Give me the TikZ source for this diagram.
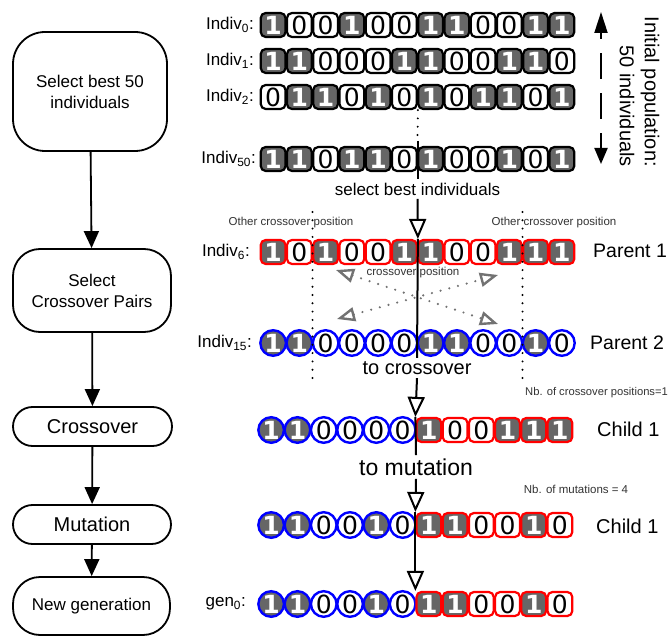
\documentclass[tikz,border=0pt]{standalone}
\usepackage{fontspec}
\setmainfont{Liberation Sans}
\newfontfamily\digitfont{DejaVu Sans}
\usetikzlibrary{arrows.meta}
\definecolor{bitgray}{HTML}{666666}
\definecolor{crossgray}{HTML}{727272}
\definecolor{notegray}{HTML}{333333}
\newcommand\setfs[2]{\fontsize{#1}{#2}\selectfont}
\def\cw{26.25}
% one chromosome: name, left x, centre y, cell pitch, frame style, bits
\newcommand\bitrow[6]{%
  \foreach \bv [count=\i] in {#6} {%
    \ifnum\bv=1
      \node[#5, bitone] (#1-\i) at ({#2+(\i-0.5)*#4}, #3) {1};
    \else
      \node[#5, bitzero] (#1-\i) at ({#2+(\i-0.5)*#4}, #3) {0};
    \fi
  }%
}
\begin{document}
\begin{tikzpicture}[x=1pt, y=-1pt,
  sqcell/.style={rectangle, rounded corners=5pt, minimum width=24.8pt,
    minimum height=24pt, inner sep=0pt, line width=2.2pt,
    font=\digitfont\setfs{25}{25}},
  blackcell/.style={sqcell, draw=black},
  redcell/.style={sqcell, draw=red},
  bluecell/.style={circle, minimum size=25.6pt, inner sep=0pt,
    line width=2.4pt, draw=blue, font=\digitfont\setfs{25}{25}},
  bitone/.style={fill=bitgray, text=white, font=\digitfont\bfseries\setfs{25}{25}},
  bitzero/.style={fill=white, text=black},
  lbl/.style={font=\setfs{17}{20}, inner sep=0pt},
  note/.style={font=\setfs{11.5}{13}, text=notegray, inner sep=0pt},
  flowbox/.style={draw=black, line width=1.8pt, align=center, inner sep=0pt},
  flowarrow/.style={line width=1.8pt, -{Triangle[length=17pt, width=15pt]}},
  mainline/.style={line width=2pt},
  openhead/.style={-{Triangle[open, length=20pt, width=17pt]}},
  dotline/.style={line width=2.2pt, dash pattern=on 0pt off 8.3pt, line cap=round},
  crossarrow/.style={draw=crossgray, line width=2.4pt,
    dash pattern=on 0pt off 9pt, line cap=round,
    {Triangle[open, length=18pt, width=14pt]}-{Triangle[open, length=18pt, width=14pt]}}
]
\useasboundingbox (0,0) rectangle (669,636);
\fill[white] (0,0) rectangle (669,636);

% ---- flowchart on the left ----
\node[flowbox, rounded corners=32pt, minimum width=154pt, minimum height=119pt,
  font=\setfs{17}{21}] (s1) at (90,91.5) {Select best 50\\individuals};
\node[flowbox, rounded corners=27pt, minimum width=158pt, minimum height=83pt,
  font=\setfs{17}{21}] (s2) at (92,290.5) {Select\\Crossover Pairs};
\node[flowbox, rounded corners=19.5pt, minimum width=159pt, minimum height=39pt,
  font=\setfs{20}{22}] (s3) at (92.5,426.5) {Crossover};
\node[flowbox, rounded corners=19.5pt, minimum width=158pt, minimum height=39pt,
  font=\setfs{20}{22}] (s4) at (92,524.5) {Mutation};
\node[flowbox, rounded corners=27pt, minimum width=157pt, minimum height=58pt,
  font=\setfs{17}{21}] (s5) at (91.5,606) {New generation};
\draw[flowarrow] (s1) -- (s2);
\draw[flowarrow] (s2) -- (s3);
\draw[flowarrow] (s3) -- (s4);
\draw[flowarrow] (s4) -- (s5);

% ---- initial population ----
\bitrow{i0}{260}{25}{\cw}{blackcell}{1,0,0,1,0,0,1,1,0,0,1,1}
\bitrow{i1}{260}{61}{\cw}{blackcell}{1,1,0,0,0,1,1,0,0,1,1,0}
\bitrow{i2}{260}{97}{\cw}{blackcell}{0,1,1,0,1,0,1,0,1,1,0,1}
\bitrow{i50}{260}{159}{\cw}{blackcell}{1,1,0,1,1,0,1,0,0,1,0,1}
\node[lbl, anchor=east] (l0) at (254,25) {Indiv\textsubscript{0}:};
\node[lbl, anchor=east] (l1) at (254,61) {Indiv\textsubscript{1}:};
\node[lbl, anchor=east] (l2) at (254,97) {Indiv\textsubscript{2}:};
\node[lbl, anchor=east] (l50) at (256,159) {Indiv\textsubscript{50}:};

\coordinate (popTop) at (601,12);
\coordinate (popBot) at (601,164);
\draw[line width=2pt, dash pattern=on 26pt off 14pt, dash phase=19pt,
  {Triangle[length=21pt, width=13pt]}-{Triangle[length=16pt, width=13pt]}] (popTop) -- (popBot);
\node[font=\setfs{20}{23}, rotate=-90, anchor=east, inner sep=0pt] (popA) at (650,167) {Initial population:};
\node[font=\setfs{20}{23}, rotate=-90, anchor=east, inner sep=0pt] (popB) at (627,167) {50 individuals};

% ---- parents ----
\bitrow{p1}{260}{252}{\cw}{redcell}{1,0,1,0,0,1,1,0,0,1,1,1}
\bitrow{p2}{260}{343}{\cw}{bluecell}{1,1,0,0,0,0,1,1,0,0,1,0}
\node[lbl, anchor=east] (l6) at (250,252) {Indiv\textsubscript{6}:};
\node[lbl, anchor=east] (l15) at (252,343) {Indiv\textsubscript{15}:};
\node[font=\setfs{19.5}{22}, anchor=west, inner sep=0pt] (par1) at (593,251) {Parent 1};
\node[font=\setfs{19.5}{22}, anchor=west, inner sep=0pt] (par2) at (590,343) {Parent 2};

\node[note] (oth1) at (291,223) {Other crossover position};
\node[note] (oth2) at (554,223) {Other crossover position};
\node[note] (xpos) at (413,273) {crossover position};
\node[note, font=\setfs{11.2}{13}, anchor=west] (nbx) at (525,393) {Nb. of crossover positions=1};

\coordinate (ltop) at (312.5,212);
\coordinate (lbot) at (312.5,383);
\coordinate (rtop) at (522.5,212);
\coordinate (rbot) at (522.5,383);
\draw[dotline] (ltop) -- (lbot);
\draw[dotline] (rtop) -- (rbot);

\coordinate (xa) at (336,270);
\coordinate (xb) at (498,324);
\coordinate (xc) at (337,319);
\coordinate (xd) at (498,275);
\draw[crossarrow] (xa) -- (xb);
\draw[crossarrow] (xc) -- (xd);

% ---- children ----
\bitrow{c1a}{258}{430}{26.3}{bluecell}{1,1,0,0,0,0}
\bitrow{c1b}{415.8}{430}{26.2}{redcell}{1,0,0,1,1,1}
\bitrow{m1}{258}{525}{26.3}{bluecell}{1,1,0,0,1,0}
\bitrow{m2}{415.8}{525}{26.2}{redcell}{1,1,0,0,1,0}
\bitrow{g1}{258}{604}{26.3}{bluecell}{1,1,0,0,1,0}
\bitrow{g2}{415.8}{604}{26.2}{redcell}{1,1,0,0,1,0}
\node[font=\setfs{20}{22}, anchor=west, inner sep=0pt] (ch1) at (597,429) {Child 1};
\node[font=\setfs{20}{22}, anchor=west, inner sep=0pt] (ch2) at (596,526) {Child 1};
\node[lbl, anchor=east] (lg) at (246,604) {gen\textsubscript{0}:};
\node[note] (nbm) at (576,489) {Nb. of mutations = 4};

% ---- flow through the operators ----
\node[font=\setfs{17}{20}] (sel) at (417.5,189) {select best individuals};
\node[font=\setfs{20}{22}] (tocross) at (417,368) {to crossover};
\node[font=\setfs{23}{25}] (tomut) at (416,467) {to mutation};

\coordinate (solidstart) at (417.5,141);
\draw[dotline] (i2-6.south east) -- (solidstart);
\draw[mainline] (solidstart) -- (sel.north);
\draw[mainline, openhead] (sel.south) -- (p1-6.north east);
\draw[mainline] (p1-6.north east) -- (tocross.north);
\draw[mainline, openhead] (tocross.south) -- (c1b-1.north west);
\draw[mainline] (c1b-1.north west) -- (tomut.north);
\draw[mainline, openhead] (tomut.south) -- (m2-1.north west);
\draw[mainline, openhead] (m2-1.north west) -- (g2-1.north west);
\end{tikzpicture}
\end{document}
